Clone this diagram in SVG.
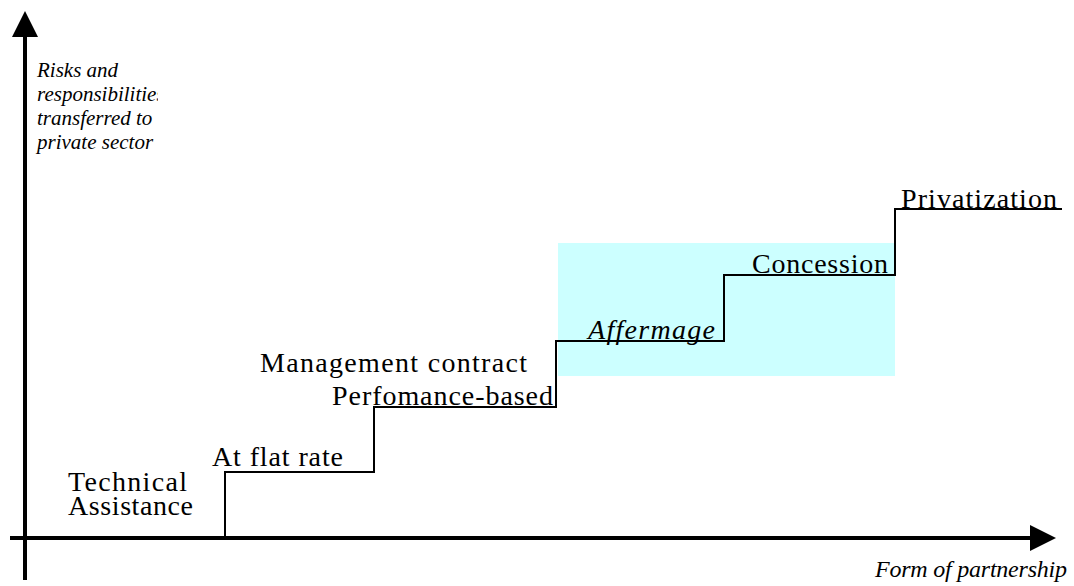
<svg xmlns="http://www.w3.org/2000/svg" width="1074" height="586" viewBox="0 0 1074 586">
<style>
.t{font-family:"Liberation Serif","Times New Roman",serif;font-size:28px;fill:#000}
.i{font-style:italic}
.y{font-size:21px}
.ax{stroke:#000;stroke-width:4;fill:none}
.st{stroke:#000;stroke-width:2;fill:none}
</style>
<defs>
<clipPath id="lblclip"><rect x="30" y="50" width="128" height="110"/></clipPath>
</defs>
<rect x="0" y="0" width="1074" height="586" fill="#fff"/>
<rect id="highlight" x="558" y="243" width="337" height="133" fill="#ccffff"/>
<g id="connectors">
<path class="st" d="M225 538 V472 H374 V407 H556 V341 H724 V275 H895 V209 H1062"/>
</g>
<g id="axes">
<line class="ax" x1="25" y1="34" x2="25" y2="580"/>
<polygon points="25,11 12,37 38,37" fill="#000"/>
<line class="ax" x1="10" y1="538" x2="1032" y2="538"/>
<polygon points="1056,538 1030,525 1030,551" fill="#000"/>
</g>
<g id="y-label" clip-path="url(#lblclip)">
<text class="t i y" x="37" y="77">Risks and</text>
<text class="t i y" x="37" y="101">responsibilities</text>
<text class="t i y" x="37" y="125">transferred to</text>
<text class="t i y" x="37" y="149">private sector</text>
</g>
<g id="x-label">
<text class="t i" style="font-size:24px" x="875" y="577" textLength="192" lengthAdjust="spacing">Form of partnership</text>
</g>
<g id="node-technical">
<text class="t" x="68" y="491" textLength="119" lengthAdjust="spacing">Technical</text>
<text class="t" x="68" y="515" textLength="125" lengthAdjust="spacing">Assistance</text>
</g>
<g id="node-flat">
<text class="t" x="212" y="466" textLength="131" lengthAdjust="spacing">At flat rate</text>
</g>
<g id="node-management">
<text class="t" x="260" y="372" textLength="267" lengthAdjust="spacing">Management contract</text>
<text class="t" x="332" y="405" textLength="221" lengthAdjust="spacing">Perfomance-based</text>
</g>
<g id="node-affermage">
<text class="t i" x="588" y="339" textLength="127" lengthAdjust="spacing">Affermage</text>
</g>
<g id="node-concession">
<text class="t" x="752" y="273" textLength="136" lengthAdjust="spacing">Concession</text>
</g>
<g id="node-privatization">
<text class="t" x="901" y="208" textLength="156" lengthAdjust="spacing">Privatization</text>
</g>
</svg>
